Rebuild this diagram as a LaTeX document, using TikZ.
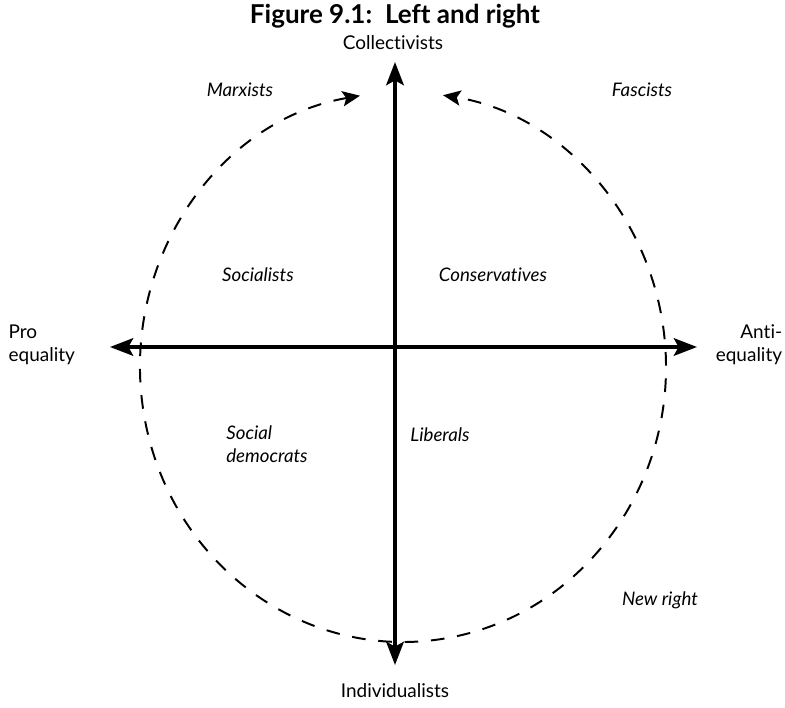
\documentclass[tikz,border=0pt]{standalone}
\usepackage{fontspec}
\setmainfont{Lato}[Ligatures=NoCommon]
\usetikzlibrary{arrows.meta, positioning, calc}

\begin{document}
\begin{tikzpicture}[
  axis/.style={line width=2.5pt, {Stealth[length=5.8mm, width=4.4mm, inset=1.2mm]}-{Stealth[length=5.8mm, width=4.4mm, inset=1.2mm]}},
  drift/.style={line width=1.4pt, dash pattern=on 3.4mm off 3.2mm, {Stealth[length=4.4mm, width=3.8mm, inset=0.9mm]}-{Stealth[length=4.4mm, width=3.8mm, inset=0.9mm]}},
  pole/.style={font=\fontsize{13.5}{16.5}\selectfont, align=center, inner sep=1pt},
  group/.style={font=\fontsize{13.3}{16.5}\selectfont\itshape, inner sep=1pt}
]
  \useasboundingbox (-9.875, -9.025) rectangle (9.75, 8.675);

  \node[font=\fontsize{18.5}{22}\selectfont\bfseries] (title) at (0, 8.28) {Figure 9.1:\, Left and right};

  \coordinate (top) at (0, 7.125);
  \coordinate (bottom) at (0, -7.95);
  \coordinate (left) at (-7.125, 0);
  \coordinate (right) at (7.55, 0);

  \draw[axis] (bottom) -- (top);
  \draw[axis] (left) -- (right);

  % circle of drift towards the collectivist end
  \draw[drift] ($(0.2,-0.5)+(99.4:6.575 and 6.875)$) arc[start angle=99.4, end angle=441.25, x radius=6.575, y radius=6.875];

  \node[pole] (coll) at (-0.05, 7.62) {Collectivists};
  \node[pole] (indiv) at (0, -8.6) {Individualists};
  \node[pole, align=left, anchor=west] (pro) at (-9.7, 0.05) {Pro\\equality};
  \node[pole, align=right, anchor=east] (anti) at (9.72, 0.05) {Anti-\\equality};

  \node[group] (marx) at (-3.875, 6.425) {Marxists};
  \node[group] (fasc) at (6.175, 6.425) {Fascists};
  \node[group] (soc) at (-3.425, 1.8) {Socialists};
  \node[group] (cons) at (2.45, 1.8) {Conservatives};
  \node[group, align=left] (socdem) at (-3.2, -2.425) {Social\\democrats};
  \node[group] (lib) at (1.125, -2.2) {Liberals};
  \node[group] (newr) at (6.625, -6.325) {New right};
\end{tikzpicture}
\end{document}
